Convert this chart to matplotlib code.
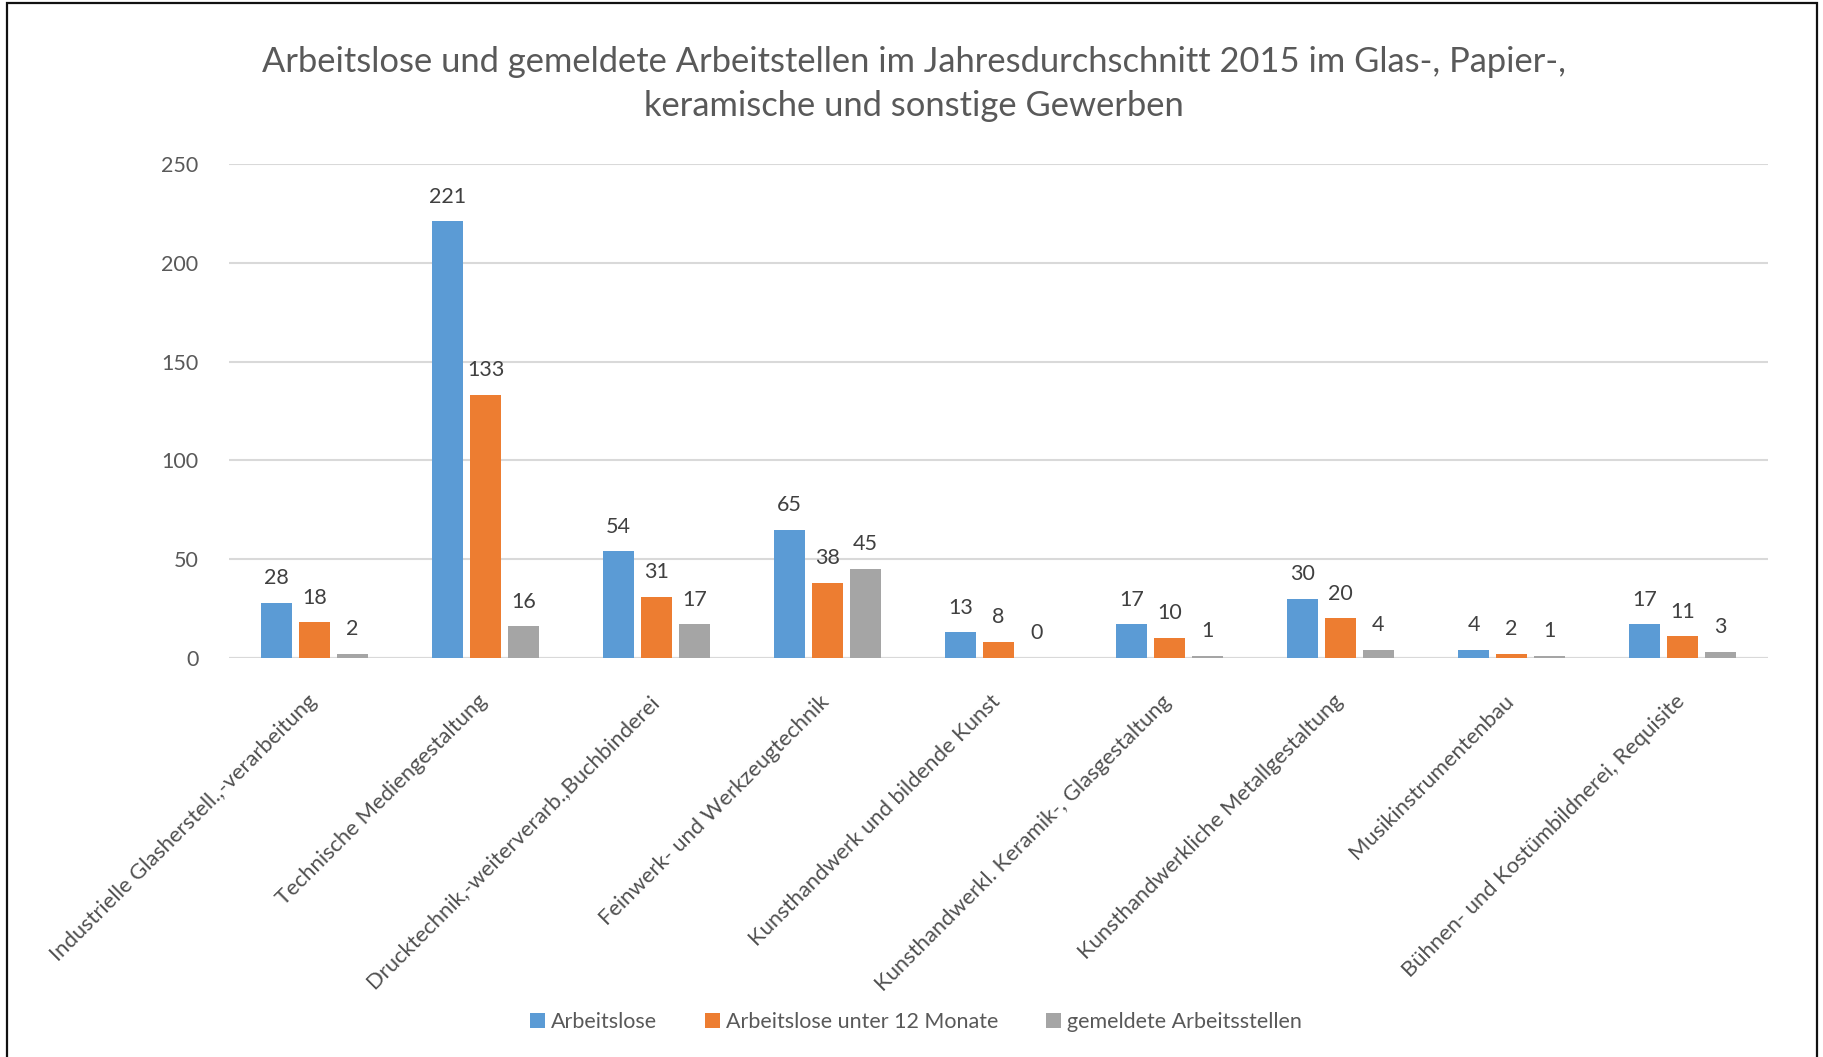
import matplotlib
matplotlib.use("Agg")
import matplotlib.pyplot as plt
import numpy as np
from matplotlib.patches import Rectangle
from matplotlib.transforms import ScaledTranslation

categories = [
    "Industrielle Glasherstell.,-verarbeitung",
    "Technische Mediengestaltung",
    "Drucktechnik,-weiterverarb.,Buchbinderei",
    "Feinwerk- und Werkzeugtechnik",
    "Kunsthandwerk und bildende Kunst",
    "Kunsthandwerkl. Keramik-, Glasgestaltung",
    "Kunsthandwerkliche Metallgestaltung",
    "Musikinstrumentenbau",
    "Bühnen- und Kostümbildnerei, Requisite",
]
arbeitslose = [28, 221, 54, 65, 13, 17, 30, 4, 17]
unter12 = [18, 133, 31, 38, 8, 10, 20, 2, 11]
stellen = [2, 16, 17, 45, 0, 1, 4, 1, 3]
series_names = ["Arbeitslose", "Arbeitslose unter 12 Monate", "gemeldete Arbeitsstellen"]
colors = ["#5B9BD5", "#ED7D31", "#A5A5A5"]
yticks = [0, 50, 100, 150, 200, 250]
title = ("Arbeitslose und gemeldete Arbeitstellen im Jahresdurchschnitt 2015 im Glas-, Papier-,\n"
         "keramische und sonstige Gewerben")

plt.rcParams['font.family'] = ['Lato', 'DejaVu Sans']

W, H = 1823, 1057
fig = plt.figure(figsize=(W / 100, H / 100), dpi=100)
ax = fig.add_axes([229 / W, 1 - 658 / H, (1768 - 229) / W, (658 - 164) / H])

x = np.arange(len(categories))
bw = 0.18
step = 0.222
series = [arbeitslose, unter12, stellen]
for k, (vals, col, name) in enumerate(zip(series, colors, series_names)):
    pos = x + (k - 1) * step
    ax.bar(pos, vals, width=bw, color=col, label=name, zorder=3)
    for xi, v in zip(pos, vals):
        ax.annotate(str(v), (xi, v), xytext=(0, 13.5), textcoords="offset points",
                    ha="center", va="baseline", fontsize=15.5, color="#404040")

ax.set_xlim(-0.5, len(categories) - 0.5)
ax.set_ylim(0, 250)
ax.set_yticks(yticks)
ax.set_yticklabels([str(t) for t in yticks], fontsize=15.5, color="#595959")
ax.yaxis.grid(True, color="#D9D9D9", linewidth=1.5, zorder=0)
ax.set_axisbelow(True)
for s in ["top", "right", "left", "bottom"]:
    ax.spines[s].set_visible(False)
ax.tick_params(axis="y", length=0, pad=22)
ax.tick_params(axis="x", length=0, pad=24)
ax.axhline(0, color="#D9D9D9", linewidth=1.5, zorder=2)

ax.set_xticks(x)
labels = ax.set_xticklabels(categories, rotation=45, ha="right", va="top",
                            fontsize=15.8, color="#505050")
off = ScaledTranslation(6 / 100, 0, fig.dpi_scale_trans)
for lab in labels:
    lab.set_transform(lab.get_transform() + off)

fig.text(914 / W, 1 - 84 / H, title, ha="center", va="center", fontsize=24.8,
         color="#595959", linespacing=1.5)

leg = fig.legend(loc="center", bbox_to_anchor=(916 / W, 1 - 1022 / H), ncol=3,
                 frameon=False, fontsize=15.5, handlelength=0.7, handleheight=0.7,
                 handletextpad=0.3, columnspacing=2.2)
for t in leg.get_texts():
    t.set_color("#595959")

fig.patches.append(Rectangle((7 / W, -0.05), (1817 - 7) / W, 1.05 - 3 / H,
                             transform=fig.transFigure, fill=False,
                             edgecolor="#111111", linewidth=1.6, zorder=10))

fig.savefig("out.png", dpi=100, facecolor="white")
